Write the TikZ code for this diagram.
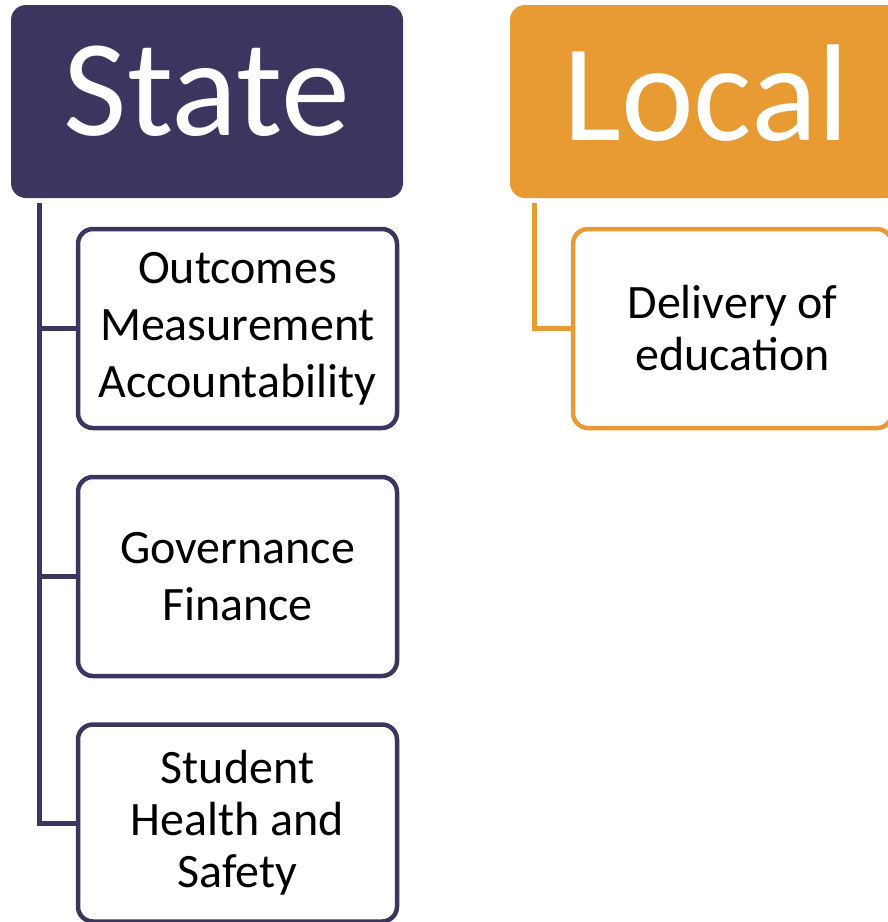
\documentclass[tikz,border=0pt]{standalone}
\usepackage{fontspec}
\setmainfont{Carlito}
\usetikzlibrary{calc}
\definecolor{statecol}{HTML}{3D3560}
\definecolor{localcol}{HTML}{E89A33}
\begin{document}
\begin{tikzpicture}[x=1pt,y=-1pt,
  header/.style={rounded corners=15pt, minimum width=392pt, minimum height=193pt,
    inner sep=0pt, text=white, font=\fontsize{138}{160}\selectfont, text depth=0pt},
  item/.style={draw, line width=4.5pt, rounded corners=15pt, minimum width=319pt,
    minimum height=199pt, inner sep=0pt, align=center, fill=white, text=black},
  wide/.style={font=\fontsize{48}{57}\selectfont},
  tight/.style={font=\fontsize{48}{52}\selectfont},
  link/.style={line width=5pt}
]
\clip (0,0) rectangle (888,922);

% State column
\node[header, fill=statecol, text height=67pt] (state) at (207,101.5) {State};
\node[item, wide, draw=statecol] (outcomes) at (237.5,328.5)
  {Outcomes\\Measurement\\Accountability};
\node[item, wide, draw=statecol] (governance) at (237.5,576.5)
  {Governance\\Finance};
\node[item, tight, draw=statecol, minimum height=197pt] (student) at (237.5,823)
  {Student\\Health and\\Safety};

\foreach \child in {outcomes,governance,student}
  \draw[link, statecol] ($(state.south west)+(28.5,5)$) |- (\child.west);

% Local column
\node[header, fill=localcol, text height=77pt] (local) at (706,101.5) {Local};
\node[item, tight, draw=localcol] (delivery) at (732.5,328.5)
  {Delivery of\\education};
\draw[link, localcol] ($(local.south west)+(25,5)$) |- (delivery.west);
\end{tikzpicture}
\end{document}
